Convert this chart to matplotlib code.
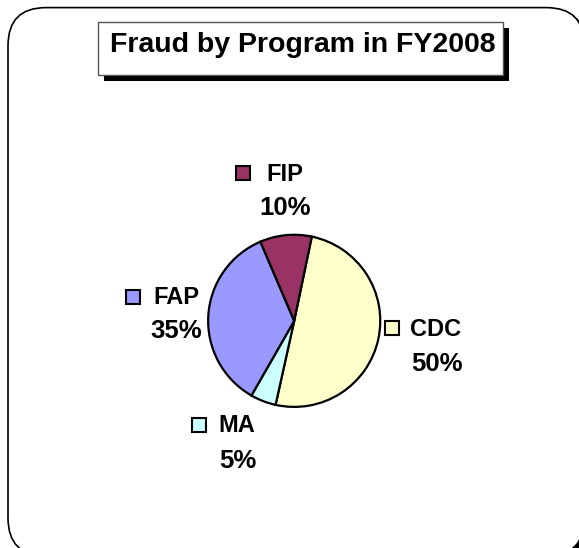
import matplotlib
matplotlib.use("Agg")
import matplotlib.pyplot as plt
from matplotlib.patches import FancyBboxPatch, Rectangle

W, H = 579, 548

# data (share of fraud cases)
programs = ["CDC", "MA", "FAP", "FIP"]
shares = [50.2, 4.8, 35.3, 9.7]
colors = ["#FFFFCC", "#CCFFFF", "#9999FF", "#993366"]
title = "Fraud by Program in FY2008"

# label placement in pixels (top-left origin): square centre, name left, name baseline, pct centre, pct baseline
label_pos = {
    "CDC": (392, 328, 410, 336, 437, 371),
    "MA": (199, 425, 218, 432, 238, 468),
    "FAP": (133, 297, 153, 304, 176, 338),
    "FIP": (243, 173, 266, 181, 285, 215),
}

def Y(y):
    return H - y

# small nudge so the pixel size does not get truncated to 578x547
fig = plt.figure(figsize=((W + 0.4) / 100, (H + 0.4) / 100), dpi=100)
ax = fig.add_axes([0, 0, 1, 1])

font = dict(family=["Liberation Sans", "DejaVu Sans"], fontweight="bold", color="black")

# outer rounded frame with shadow (right and bottom edges run off the picture)
ax.add_patch(FancyBboxPatch((12, Y(560)), 576, 548, boxstyle="round,pad=0,rounding_size=38",
                            fc="black", ec="black", lw=1.2, zorder=0))
ax.add_patch(FancyBboxPatch((8, Y(556)), 576, 548, boxstyle="round,pad=0,rounding_size=38",
                            fc="white", ec="black", lw=1.2, zorder=1))

# title box with drop shadow
ax.add_patch(Rectangle((104, Y(81)), 405, 53, fc="black", ec="none", zorder=2))
ax.add_patch(Rectangle((98, Y(75)), 405, 53, fc="white", ec="#555555", lw=1, zorder=3))
ax.text(303, Y(52), title, ha="center", va="baseline", fontsize=20.5, zorder=4, **font)

# pie
ax.pie(shares, colors=colors, startangle=78.2, counterclock=False, center=(294, Y(321)),
       radius=86, frame=True, wedgeprops=dict(edgecolor="black", linewidth=1.6, zorder=5))
ax.set_xlim(0, W)
ax.set_ylim(0, H)
ax.set_aspect("auto")
ax.axis("off")

total = sum(shares)
for name, val, col in zip(programs, shares, colors):
    sx, sy, nx, ny, px, py = label_pos[name]
    ax.add_patch(Rectangle((sx - 7, Y(sy) - 7), 14, 14, fc=col, ec="black", lw=1.5, zorder=6))
    ax.text(nx, Y(ny), name, ha="left", va="baseline", fontsize=17, zorder=6, **font)
    ax.text(px, Y(py), f"{round(val / total * 100):.0f}%", ha="center", va="baseline",
            fontsize=18.5, zorder=6, **font)

fig.savefig("out.png", dpi=100)
